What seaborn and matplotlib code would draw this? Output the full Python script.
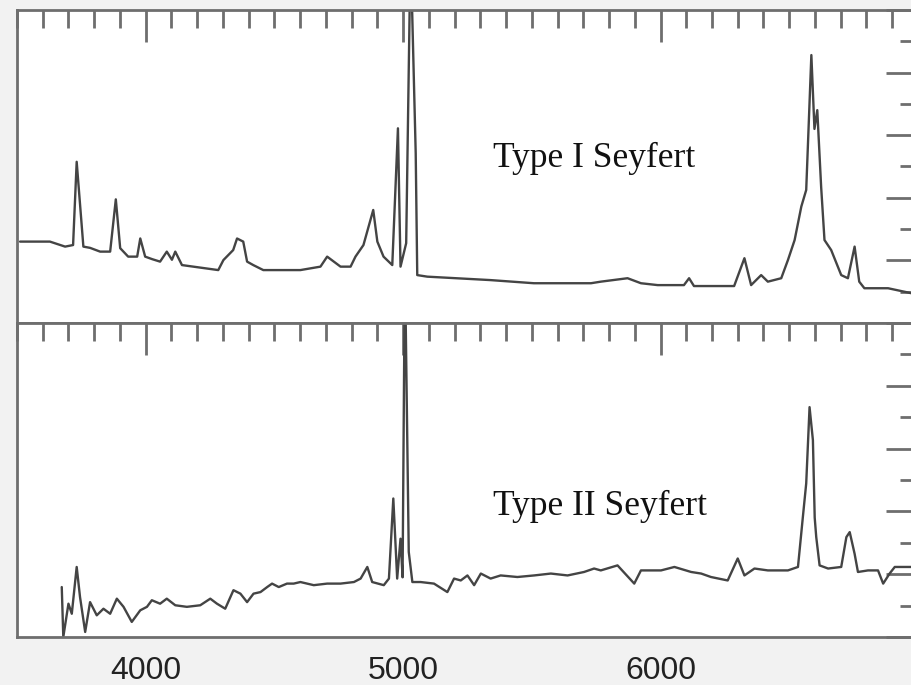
import numpy as np
import pandas as pd
import seaborn as sns
import matplotlib.pyplot as plt
from matplotlib.ticker import FixedLocator, MultipleLocator

# wavelength (Angstrom) and relative flux
wave_type1 = [3512, 3628, 3687, 3718, 3732, 3758, 3784, 3823, 3862, 3884, 3901, 3932,
              3967, 3979, 3998, 4025, 4056, 4082, 4102, 4115, 4141, 4185, 4282, 4302,
              4340, 4355, 4379, 4394, 4418, 4457, 4601, 4679, 4705, 4757, 4796, 4815,
              4846, 4884, 4900, 4924, 4958, 4980, 4990, 5012, 5029, 5049, 5055, 5094,
              5340, 5508, 5730, 5768, 5872, 5924, 5989, 6091, 6111, 6130, 6286, 6326,
              6352, 6391, 6417, 6469, 6495, 6521, 6547, 6566, 6586, 6598, 6609, 6624,
              6637, 6663, 6702, 6728, 6754, 6772, 6792, 6884, 6975, 7000]
flux_type1 = [2.60, 2.60, 2.44, 2.49, 5.15, 2.44, 2.40, 2.28, 2.28, 3.95, 2.39, 2.12,
              2.12, 2.70, 2.12, 2.04, 1.96, 2.28, 2.02, 2.28, 1.85, 1.80, 1.69, 2.01,
              2.33, 2.70, 2.60, 1.96, 1.85, 1.69, 1.69, 1.80, 2.12, 1.80, 1.80, 2.12,
              2.49, 3.61, 2.60, 2.12, 1.85, 6.22, 1.80, 2.55, 12.0, 5.43, 1.53, 1.48,
              1.37, 1.27, 1.27, 1.32, 1.43, 1.27, 1.21, 1.21, 1.43, 1.18, 1.18, 2.07,
              1.21, 1.53, 1.32, 1.43, 2.01, 2.65, 3.72, 4.25, 8.56, 6.20, 6.80, 4.35,
              2.65, 2.33, 1.53, 1.43, 2.44, 1.32, 1.11, 1.11, 0.95, 0.93]

wave_type2 = [3674, 3680, 3700, 3713, 3732, 3745, 3765, 3784, 3810, 3836, 3862, 3888,
              3914, 3946, 3979, 4005, 4024, 4056, 4082, 4115, 4160, 4212, 4251, 4277,
              4309, 4341, 4368, 4394, 4419, 4446, 4472, 4491, 4517, 4549, 4575, 4601,
              4653, 4705, 4757, 4809, 4835, 4861, 4880, 4925, 4945, 4962, 4977, 4990,
              4998, 5007, 5022, 5036, 5068, 5120, 5172, 5198, 5224, 5250, 5276, 5302,
              5340, 5379, 5444, 5509, 5574, 5639, 5703, 5742, 5768, 5833, 5898, 5924,
              6002, 6054, 6119, 6158, 6196, 6261, 6300, 6326, 6365, 6417, 6495, 6534,
              6553, 6566, 6579, 6592, 6599, 6605, 6618, 6651, 6702, 6722, 6735, 6754,
              6767, 6806, 6845, 6865, 6890, 6910, 6981, 7000]
flux_type2 = [1.59, 0.00, 1.06, 0.74, 2.23, 1.27, 0.16, 1.11, 0.69, 0.90, 0.74, 1.22,
              0.96, 0.48, 0.85, 0.96, 1.17, 1.06, 1.22, 1.01, 0.96, 1.01, 1.22, 1.06,
              0.90, 1.49, 1.38, 1.11, 1.38, 1.43, 1.59, 1.70, 1.59, 1.70, 1.70, 1.75,
              1.65, 1.70, 1.70, 1.75, 1.86, 2.23, 1.75, 1.65, 1.86, 4.41, 1.86, 3.13,
              1.90, 12.0, 2.71, 1.75, 1.75, 1.70, 1.43, 1.86, 1.80, 1.96, 1.65, 2.02,
              1.86, 1.96, 1.91, 1.96, 2.02, 1.96, 2.07, 2.18, 2.12, 2.28, 1.70, 2.12,
              2.12, 2.23, 2.07, 2.02, 1.91, 1.80, 2.50, 1.96, 2.18, 2.12, 2.12, 2.23,
              3.82, 4.89, 7.32, 6.27, 3.80, 3.18, 2.28, 2.18, 2.23, 3.18, 3.34, 2.65,
              2.07, 2.12, 2.12, 1.70, 2.02, 2.23, 2.23, 2.23]

x_ticks = [4000, 5000, 6000]
x_labels = ["4000", "5000", "6000"]
labels = ["Type I Seyfert", "Type II Seyfert"]

sns.set_style("white")
plt.rcParams["font.family"] = ["Liberation Sans", "DejaVu Sans"]

fig = plt.figure(figsize=(9.12, 6.85), dpi=100, facecolor="#f2f2f2")
ax1 = fig.add_axes([0.0186, 0.5285, 0.9879, 0.4569])
ax2 = fig.add_axes([0.0186, 0.0701, 0.9879, 0.4584])

spec = [
    (ax1, wave_type1, flux_type1, labels[0], 5348, 4.98),
    (ax2, wave_type2, flux_type2, labels[1], 5348, 3.88),
]

for ax, w, f, lab, tx, ty in spec:
    df = pd.DataFrame({"wave": w, "flux": f})
    sns.lineplot(data=df, x="wave", y="flux", ax=ax, color="#444444",
                 linewidth=1.7, sort=False)
    ax.set_facecolor("white")
    ax.set_xlim(3500, 7000)
    ax.set_ylim(0, 10)
    ax.set_xlabel("")
    ax.set_ylabel("")
    ax.xaxis.set_major_locator(FixedLocator(x_ticks))
    ax.xaxis.set_minor_locator(MultipleLocator(100))
    ax.yaxis.set_major_locator(MultipleLocator(2))
    ax.yaxis.set_minor_locator(MultipleLocator(1))
    ax.tick_params(which="both", direction="in", top=True, right=True,
                   colors="#6e6e6e", width=2)
    ax.tick_params(which="major", length=23)
    ax.tick_params(which="minor", length=13)
    ax.tick_params(labelleft=False, labelbottom=False)
    for s in ax.spines.values():
        s.set_color("#6e6e6e")
        s.set_linewidth(2)
        s.set_visible(True)
    ax.text(tx, ty, lab, family=["Liberation Serif", "DejaVu Serif"],
            fontsize=25.5, color="#111111", ha="left", va="baseline")

ax2.tick_params(labelbottom=True, labelsize=23, labelcolor="#222222", pad=14)
ax2.set_xticklabels(x_labels)

fig.savefig("out.png", dpi=100, facecolor=fig.get_facecolor())
